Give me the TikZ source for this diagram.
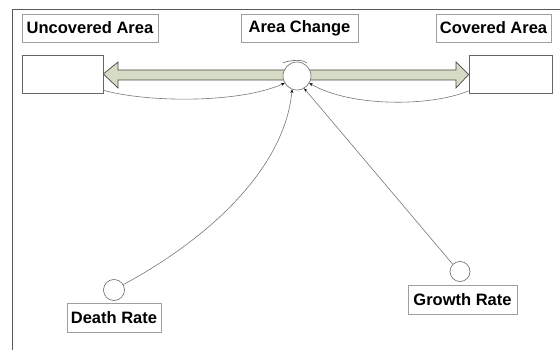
\documentclass[tikz,border=0pt]{standalone}
\usepackage{fontspec}
\setmainfont{Liberation Sans}
\usetikzlibrary{arrows.meta}
\definecolor{arrowfill}{RGB}{214,219,198}
\definecolor{arrowline}{RGB}{70,72,66}
\definecolor{linkgray}{RGB}{120,120,120}
\definecolor{framegray}{RGB}{90,90,90}
\tikzset{
  lbl/.style={draw=gray!75, line width=0.6pt, inner sep=0pt, font=\bfseries\fontsize{16.5}{18}\selectfont},
  stockbox/.style={draw=gray!80!black, line width=0.6pt, inner sep=0pt, minimum width=81pt, minimum height=38pt},
  auxcirc/.style={circle, draw=gray!80!black, line width=0.6pt, fill=white, inner sep=0pt},
  link/.style={draw=linkgray, line width=0.6pt, -{Stealth[length=3.5pt,width=3pt,black]}}
}
\begin{document}
\begin{tikzpicture}[x=1pt,y=-1pt]
\useasboundingbox (0,0) rectangle (560,350);
% frame
\draw[framegray, line width=0.8pt] (12,350) -- (12,9) -- (560,9);
% labels
\node[lbl, minimum width=136pt, minimum height=28pt] (ulab) at (90,28) {Uncovered Area};
\node[lbl, minimum width=117pt, minimum height=28pt] (alab) at (299.5,28) {Area Change};
\node[lbl, minimum width=115pt, minimum height=28pt] (clab) at (493.5,28) {Covered Area};
% stocks
\node[stockbox] (stockL) at (62.5,74) {};
\node[stockbox, minimum width=83pt] (stockR) at (510.5,74.5) {};
% flow double arrow
\draw[fill=arrowfill, draw=arrowline, line width=0.7pt]
  (stockL.east) -- (118,62) -- (118,70) -- (456,70) -- (456,62) -- (stockR.west)
  -- (456,88) -- (456,80) -- (118,80) -- (118,88) -- cycle;
% valve
\node[auxcirc, minimum size=28pt] (valve) at (297,76) {};
\draw[gray!80!black, line width=0.6pt] (283,63) .. controls (289,60) and (299,60) .. (303,61) -- (307,63);
% auxiliaries
\node[auxcirc, minimum size=21pt] (death) at (114,290) {};
\node[lbl, minimum width=94pt, minimum height=29pt] (dlab) at (114,317.5) {Death Rate};
\node[auxcirc, minimum size=20pt] (growth) at (460,271.5) {};
\node[lbl, minimum width=109pt, minimum height=29pt] (glab) at (462.5,299.5) {Growth Rate};
% links
\draw[link] (stockL.south east) ++(0,-3) .. controls (150,103) and (240,103) .. (valve.210);
\draw[link] (stockR.south west) ++(0,-3) .. controls (430,107) and (350,107) .. (valve.330);
\draw[link] (death.30) .. controls (215,235) and (285,165) .. (valve.250);
\draw[link] (growth.135) -- (valve.300);
\end{tikzpicture}
\end{document}
